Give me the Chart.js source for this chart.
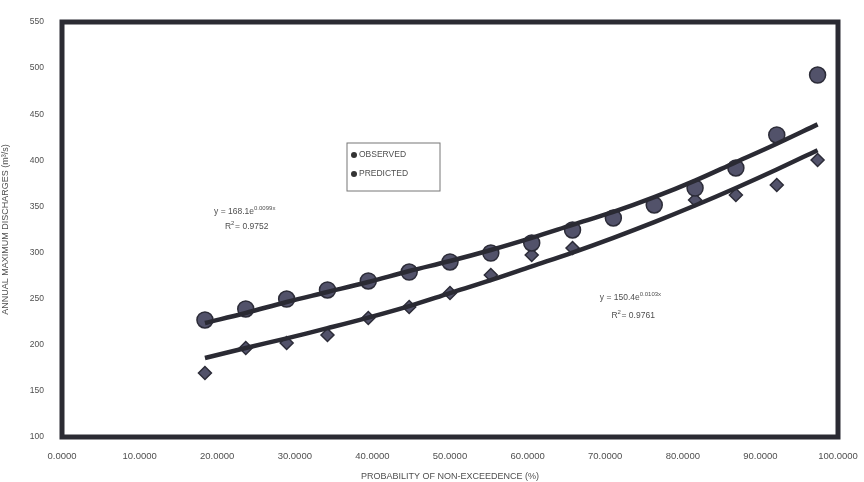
<!DOCTYPE html>
<html>
<head>
<meta charset="utf-8">
<script src="https://cdn.jsdelivr.net/npm/chart.js@4.4.1/dist/chart.umd.min.js"></script>
<style>
  html, body { margin: 0; padding: 0; background: #fff; }
  #wrap { width: 864px; height: 482px; }
</style>
</head>
<body>
<div id="wrap"><canvas id="dischargeChart" width="864" height="482"></canvas></div>
<script>
// probability of non-exceedance (%) for each ranked year
const xProb = [18.42, 23.68, 28.95, 34.21, 39.47, 44.74, 50.00, 55.26, 60.53, 65.79, 71.05, 76.32, 81.58, 86.84, 92.11, 97.37];
const observed = [226.9, 238.8, 249.6, 259.4, 269.2, 278.9, 289.8, 299.5, 310.4, 324.5, 337.5, 351.6, 370.0, 391.7, 427.5, 492.5];
const predicted = [169.4, 196.5, 201.9, 210.6, 229.0, 241.0, 256.1, 275.7, 297.4, 305.0, 337.5, 351.6, 357.0, 362.4, 373.3, 400.4];
// exponential trend lines
const observedTrend = [223.6, 234.5, 246.4, 257.2, 268.1, 280.0, 290.8, 302.8, 316, 330, 344, 360, 378, 398, 418, 439];
const predictedTrend = [185.7, 196.5, 207, 218, 229.5, 242, 256, 270, 285, 300, 316, 333, 351, 370, 390, 411];

const xTicks = [0, 10, 20, 30, 40, 50, 60, 70, 80, 90, 100];
const yTicks = [100, 150, 200, 250, 300, 350, 400, 450, 500, 550];
const seriesLabels = ['OBSERVED', 'PREDICTED'];

function toPoints(ys) {
    return xProb.map((x, i) => ({ x: x, y: ys[i] }));
}

var markFill = '#52526a';
var markEdge = '#2c2c38';
var lineCol = '#2a2a33';
var textCol = '#4f4f4f';

// thick frame, legend box and the trend equations
var decorPlugin = {
    id: 'decor',
    beforeDraw: function(chart) {
        var c = chart.ctx;
        c.save();
        c.fillStyle = '#fff';
        c.fillRect(0, 0, chart.width, chart.height);
        c.restore();
    },
    afterDraw: function(chart) {
        var c = chart.ctx;
        var a = chart.chartArea;
        var xs = chart.scales.x, ys = chart.scales.y;
        c.save();
        c.strokeStyle = '#2b2b33';
        c.lineWidth = 5;
        c.strokeRect(a.left, a.top, a.right - a.left, a.bottom - a.top);

        // legend
        var lx = 347, ly = 143;
        c.lineWidth = 1;
        c.strokeStyle = '#777';
        c.strokeRect(lx, ly, 93, 48);
        c.font = '8.5px "Liberation Sans", Arial, sans-serif';
        c.textBaseline = 'middle';
        seriesLabels.forEach(function(lab, i) {
            var yy = ly + 12 + i * 19;
            c.fillStyle = '#333';
            c.beginPath();
            c.arc(lx + 7, yy, 3, 0, Math.PI * 2);
            c.fill();
            c.fillStyle = textCol;
            c.fillText(lab, lx + 12, yy);
        });

        // equations
        function eq(xv, yv, base, sup) {
            var px = xs.getPixelForValue(xv), py = ys.getPixelForValue(yv);
            c.fillStyle = textCol;
            c.font = '8.5px "Liberation Sans", Arial, sans-serif';
            c.textBaseline = 'alphabetic';
            c.fillText(base, px, py);
            var w = c.measureText(base).width;
            c.font = '6px "Liberation Sans", Arial, sans-serif';
            c.fillText(sup, px + w, py - 4);
        }
        eq(19.6, 342, 'y = 168.1e', '0.0099x');
        eq(21.0, 326, 'R', '2');
        eq(69.3, 249, 'y = 150.4e', '0.0103x');
        eq(70.8, 229, 'R', '2');
        c.font = '8.5px "Liberation Sans", Arial, sans-serif';
        c.fillStyle = textCol;
        var r1 = xs.getPixelForValue(21.0) + c.measureText('R').width + 4;
        c.fillText('= 0.9752', r1, ys.getPixelForValue(326));
        var r2 = xs.getPixelForValue(70.8) + c.measureText('R').width + 4;
        c.fillText('= 0.9761', r2, ys.getPixelForValue(229));
        c.restore();
    }
};

function renderDischargeChart() {
    var ctx = document.getElementById('dischargeChart').getContext('2d');

    new Chart(ctx, {
        type: 'scatter',
        data: {
            datasets: [
                {
                    label: 'Observed trend',
                    data: toPoints(observedTrend),
                    showLine: true,
                    borderColor: lineCol,
                    borderWidth: 4.5,
                    pointRadius: 0,
                    tension: 0.4,
                    order: 0
                },
                {
                    label: 'Predicted trend',
                    data: toPoints(predictedTrend),
                    showLine: true,
                    borderColor: lineCol,
                    borderWidth: 4.5,
                    pointRadius: 0,
                    tension: 0.4,
                    order: 1
                },
                {
                    label: seriesLabels[0],
                    data: toPoints(observed),
                    pointStyle: 'circle',
                    pointRadius: 8,
                    backgroundColor: markFill,
                    borderColor: markEdge,
                    borderWidth: 1.5,
                    order: 2
                },
                {
                    label: seriesLabels[1],
                    data: toPoints(predicted),
                    pointStyle: 'rectRot',
                    pointRadius: 6.5,
                    backgroundColor: markFill,
                    borderColor: markEdge,
                    borderWidth: 1.5,
                    order: 3
                }
            ]
        },
        options: {
            responsive: false,
            animation: false,
            layout: { padding: { top: 22, right: 26, left: 0, bottom: 0 } },
            plugins: {
                legend: { display: false },
                tooltip: { enabled: false }
            },
            scales: {
                x: {
                    type: 'linear',
                    min: 0,
                    max: 100,
                    afterBuildTicks: function(s) { s.ticks = xTicks.map(v => ({ value: v })); },
                    afterFit: function(s) { s.height = 45; },
                    grid: { display: false },
                    border: { display: false },
                    ticks: {
                        color: textCol,
                        padding: 6,
                        maxRotation: 0,
                        font: { size: 9.5, family: '"Liberation Sans", Arial, sans-serif' },
                        callback: function(v) { return Number(v).toFixed(4); }
                    },
                    title: {
                        display: true,
                        text: 'PROBABILITY OF NON-EXCEEDENCE (%)',
                        color: textCol,
                        padding: { top: 4, bottom: 0 },
                        font: { size: 9, family: '"Liberation Sans", Arial, sans-serif' }
                    }
                },
                y: {
                    min: 100,
                    max: 550,
                    afterBuildTicks: function(s) { s.ticks = yTicks.map(v => ({ value: v })); },
                    afterFit: function(s) { s.width = 62; },
                    grid: { display: false },
                    border: { display: false },
                    ticks: {
                        color: textCol,
                        padding: 10,
                        font: { size: 8.5, family: '"Liberation Sans", Arial, sans-serif' }
                    },
                    title: {
                        display: true,
                        text: 'ANNUAL MAXIMUM DISCHARGES (m³/s)',
                        color: textCol,
                        padding: { top: 0, bottom: 2 },
                        font: { size: 9, family: '"Liberation Sans", Arial, sans-serif' }
                    }
                }
            }
        },
        plugins: [decorPlugin]
    });
}

document.addEventListener('DOMContentLoaded', renderDischargeChart);
</script>
</body>
</html>
